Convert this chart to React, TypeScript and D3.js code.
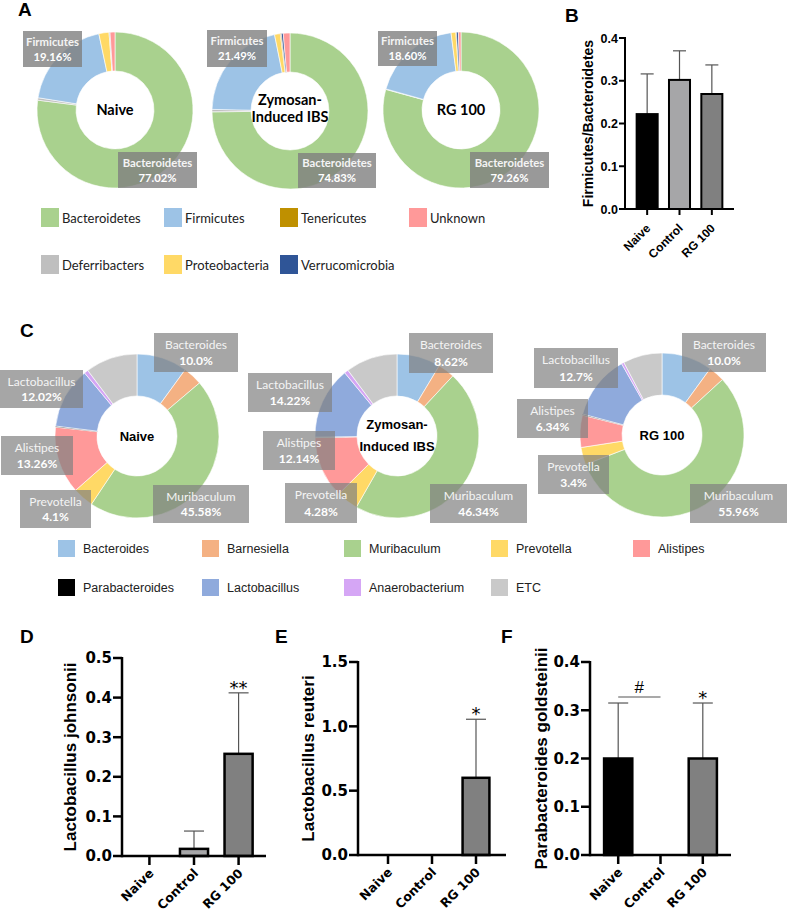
import React from 'react';
import * as d3 from 'd3';

// ---------- Panel A: phylum composition (%) ----------
const phyla = ['Bacteroidetes', 'Deferribacters', 'Firmicutes', 'Proteobacteria', 'Tenericutes', 'Verrucomicrobia', 'Unknown'];
const phylaColors = ['#a9d18e', '#bfbfbf', '#9dc3e6', '#ffd966', '#bf9000', '#2f5597', '#ff9999'];
const phylaNaive = [77.02, 0.5, 19.16, 2.1, 0.1, 0.1, 1.02];
const phylaZymosan = [74.83, 0.5, 21.49, 1.2, 0.2, 0.4, 1.38];
const phylaRG100 = [79.26, 0.1, 18.6, 1.0, 0.1, 0.4, 0.54];
const phylaLegend = [
  ['Bacteroidetes', 'Firmicutes', 'Tenericutes', 'Unknown'],
  ['Deferribacters', 'Proteobacteria', 'Verrucomicrobia'],
];

// ---------- Panel B: Firmicutes/Bacteroidetes ----------
const groups = ['Naive', 'Control', 'RG 100'];
const groupFills = ['#000000', '#a6a6a8', '#808080'];
const ratioMean = [0.222, 0.302, 0.269];
const ratioSd = [0.094, 0.068, 0.068];

// ---------- Panel C: genus composition (%) ----------
const genera = ['Bacteroides', 'Barnesiella', 'Muribaculum', 'Prevotella', 'Alistipes', 'Parabacteroides', 'Lactobacillus', 'Anaerobacterium', 'ETC'];
const generaColors = ['#9dc3e6', '#f4b183', '#a9d18e', '#ffd966', '#ff9999', '#000000', '#8faadc', '#d5a6f5', '#c9c9c9'];
const generaNaive = [10.0, 3.8, 45.58, 4.1, 13.26, 0.2, 12.02, 0.8, 10.24];
const generaZymosan = [8.62, 3.3, 46.34, 4.28, 12.14, 0.1, 14.22, 0.8, 10.2];
const generaRG100 = [10.0, 3.2, 55.96, 3.4, 6.34, 0.2, 12.7, 0.5, 7.7];
const labelledGenera = [0, 6, 4, 3, 2];
const generaLabelNaive = ['10.0%', '12.02%', '13.26%', '4.1%', '45.58%'];
const generaLabelZymosan = ['8.62%', '14.22%', '12.14%', '4.28%', '46.34%'];
const generaLabelRG100 = ['10.0%', '12.7%', '6.34%', '3.4%', '55.96%'];
const generaLegend = [
  ['Bacteroides', 'Barnesiella', 'Muribaculum', 'Prevotella', 'Alistipes'],
  ['Parabacteroides', 'Lactobacillus', 'Anaerobacterium', 'ETC'],
];

// ---------- Panels D-F ----------
const johnsoniiMean = [0, 0.018, 0.258];
const johnsoniiSd = [0, 0.045, 0.154];
const reuteriMean = [0, 0, 0.6];
const reuteriSd = [0, 0, 0.455];
const goldsteiniiMean = [0.2, 0, 0.2];
const goldsteiniiSd = [0.115, 0, 0.115];

const ARIAL = 'Liberation Sans, Arial, sans-serif';
const CALIBRI = 'Lato, sans-serif';
const WIDE = 'DejaVu Sans, sans-serif';

type Box = { x: number; y: number; w: number; h: number };

const Donut = ({ cx, cy, outer, inner, values, colors }: { cx: number; cy: number; outer: number; inner: number; values: number[]; colors: string[] }) => {
  const arcs = d3.pie<number>().sort(null).value(d => d)(values);
  const arc = d3.arc<d3.PieArcDatum<number>>().innerRadius(inner).outerRadius(outer);
  return (
    <g transform={`translate(${cx},${cy})`}>
      {arcs.map((a, i) => (
        <path key={i} d={arc(a) || ''} fill={colors[i]} stroke="#fff" strokeWidth={0.6} />
      ))}
    </g>
  );
};

const LabelBox = ({ b, top, bottom, size, topWeight, opacity }: { b: Box; top: string; bottom: string; size: number; topWeight: number; opacity: number }) => (
  <g>
    <rect x={b.x} y={b.y} width={b.w} height={b.h} fill="#808080" opacity={opacity} />
    <text x={b.x + b.w / 2} y={b.y + b.h * 0.3} dy="0.35em" textAnchor="middle" fontFamily={CALIBRI} fontSize={size} fontWeight={topWeight} fill="#f4f4f4">{top}</text>
    <text x={b.x + b.w / 2} y={b.y + b.h * 0.71} dy="0.35em" textAnchor="middle" fontFamily={CALIBRI} fontSize={size} fontWeight={700} fill="#fff">{bottom}</text>
  </g>
);

type BarPanelProps = {
  means: number[]; sds: number[];
  x0: number; x1: number; yBottom: number; yTop: number; max: number; step: number;
  padInner: number; padOuter: number;
  tickFont: string; tickSize: number; tickLen: number; axisW: number; barStroke: number; capW: number;
  xlabSize: number; xlabDx: number; xlabDy: number;
  ylabel: string; ylabelX: number; ylabelSize: number;
  annotate?: (x: (g: string) => number, y: d3.ScaleLinear<number, number>) => React.ReactNode;
};

const BarPanel = (p: BarPanelProps) => {
  const x = d3.scaleBand<string>().domain(groups).range([p.x0, p.x1]).paddingInner(p.padInner).paddingOuter(p.padOuter);
  const y = d3.scaleLinear().domain([0, p.max]).range([p.yBottom, p.yTop]);
  const cx = (g: string) => (x(g) || 0) + x.bandwidth() / 2;
  const ticks = d3.range(0, p.max + 1e-9, p.step);
  const fmt = d3.format('.1f');
  return (
    <g>
      {groups.map((g, i) => {
        const m = p.means[i];
        const s = p.sds[i];
        return (
          <g key={g}>
            {s > 0 && (
              <g stroke="#555" strokeWidth={1.2}>
                <line x1={cx(g)} x2={cx(g)} y1={y(m)} y2={y(m + s)} />
                <line x1={cx(g) - p.capW / 2} x2={cx(g) + p.capW / 2} y1={y(m + s)} y2={y(m + s)} />
              </g>
            )}
            {m > 0 && (
              <rect x={x(g)} y={y(m)} width={x.bandwidth()} height={y(0) - y(m)} fill={groupFills[i]} stroke="#000" strokeWidth={p.barStroke} />
            )}
          </g>
        );
      })}
      <line x1={p.x0} x2={p.x0} y1={p.yBottom + p.axisW / 2} y2={p.yTop - 1} stroke="#000" strokeWidth={p.axisW} />
      <line x1={p.x0} x2={p.x1} y1={p.yBottom} y2={p.yBottom} stroke="#000" strokeWidth={p.axisW} />
      {ticks.map(t => (
        <g key={t}>
          <line x1={p.x0 - p.tickLen} x2={p.x0} y1={y(t)} y2={y(t)} stroke="#000" strokeWidth={p.axisW} />
          <text x={p.x0 - p.tickLen - 1} y={y(t)} dy="0.36em" textAnchor="end" fontFamily={p.tickFont} fontWeight={700} fontSize={p.tickSize} fill="#000">{fmt(t)}</text>
        </g>
      ))}
      {groups.map(g => (
        <g key={g}>
          <line x1={cx(g)} x2={cx(g)} y1={p.yBottom} y2={p.yBottom + p.tickLen} stroke="#000" strokeWidth={p.axisW} />
          <text transform={`translate(${cx(g) + p.xlabDx},${p.yBottom + p.xlabDy}) rotate(-45)`} textAnchor="end" fontFamily={p.tickFont} fontWeight={700} fontSize={p.xlabSize} fill="#000">{g}</text>
        </g>
      ))}
      <text transform={`translate(${p.ylabelX},${(p.yBottom + p.yTop) / 2}) rotate(-90)`} textAnchor="middle" fontFamily={ARIAL} fontWeight={700} fontSize={p.ylabelSize} fill="#000">{p.ylabel}</text>
      {p.annotate && p.annotate(cx, y)}
    </g>
  );
};

const panelLetter = (t: string, x: number, y: number) => (
  <text x={x} y={y} fontFamily={ARIAL} fontWeight={700} fontSize={19} fill="#000">{t}</text>
);

// donut placement (layout only)
const donutsA = [
  { cx: 115, cy: 110, values: phylaNaive, title: ['Naive'] },
  { cx: 290, cy: 111, values: phylaZymosan, title: ['Zymosan-', 'Induced IBS'] },
  { cx: 461, cy: 110, values: phylaRG100, title: ['RG 100'] },
];
const boxesA: Box[][] = [
  [{ x: 23, y: 31, w: 59, h: 36 }, { x: 118, y: 152, w: 79, h: 36 }],
  [{ x: 207, y: 30, w: 60, h: 37 }, { x: 298, y: 153, w: 78, h: 35 }],
  [{ x: 378, y: 31, w: 59, h: 35 }, { x: 470, y: 152, w: 79, h: 36 }],
];
const donutsC = [
  { cx: 137, cy: 436, values: generaNaive, labels: generaLabelNaive, title: ['Naive'] },
  { cx: 397, cy: 436, values: generaZymosan, labels: generaLabelZymosan, title: ['Zymosan-', 'Induced IBS'] },
  { cx: 662, cy: 435, values: generaRG100, labels: generaLabelRG100, title: ['RG 100'] },
];
const boxesC: Box[][] = [
  [{ x: 154, y: 333, w: 84, h: 39 }, { x: 0, y: 370, w: 83, h: 38 }, { x: 1, y: 436, w: 72, h: 39 }, { x: 20, y: 490, w: 71, h: 38 }, { x: 153, y: 485, w: 96, h: 38 }],
  [{ x: 409, y: 333, w: 84, h: 40 }, { x: 248, y: 373, w: 84, h: 39 }, { x: 263, y: 431, w: 72, h: 39 }, { x: 285, y: 483, w: 72, h: 40 }, { x: 430, y: 484, w: 97, h: 39 }],
  [{ x: 682, y: 333, w: 84, h: 39 }, { x: 534, y: 348, w: 84, h: 40 }, { x: 517, y: 399, w: 71, h: 39 }, { x: 538, y: 455, w: 71, h: 39 }, { x: 690, y: 484, w: 97, h: 39 }],
];
const legendAX = [41, 164, 280, 409];
const legendAY = [208, 255];
const legendCX = [58, 202, 344, 491, 633];
const legendCY = [540, 579];

const App = () => {
  return (
    <svg width={787} height={915} style={{ position: 'absolute', left: 0, top: 0, background: '#fff' }}>
      {/* Panel A */}
      {panelLetter('A', 18, 16)}
      {donutsA.map((d, k) => (
        <g key={k}>
          <Donut cx={d.cx} cy={d.cy} outer={78} inner={39} values={d.values} colors={phylaColors} />
          {d.title.map((t, j) => (
            <text key={j} x={d.cx} y={d.title.length === 1 ? d.cy + 5 : d.cy - 6 + j * 17} textAnchor="middle" fontFamily={CALIBRI} fontWeight={700} fontSize={14.5} fill="#000">{t}</text>
          ))}
          <LabelBox b={boxesA[k][0]} top={phyla[2]} bottom={`${d.values[2].toFixed(2)}%`} size={11.3} topWeight={700} opacity={0.8} />
          <LabelBox b={boxesA[k][1]} top={phyla[0]} bottom={`${d.values[0].toFixed(2)}%`} size={11.3} topWeight={700} opacity={0.8} />
        </g>
      ))}
      {phylaLegend.map((row, r) => row.map((name, c) => (
        <g key={name}>
          <rect x={legendAX[c]} y={legendAY[r]} width={18} height={19} fill={phylaColors[phyla.indexOf(name)]} />
          <text x={legendAX[c] + 21} y={legendAY[r] + 10} dy="0.35em" fontFamily={CALIBRI} fontSize={13} fill="#222">{name}</text>
        </g>
      )))}

      {/* Panel B */}
      {panelLetter('B', 565, 22)}
      <BarPanel means={ratioMean} sds={ratioSd} x0={625} x1={734} yBottom={209} yTop={38} max={0.4} step={0.1}
        padInner={0.35} padOuter={0.36} tickFont={ARIAL} tickSize={12.5} tickLen={6} axisW={2} barStroke={2} capW={13}
        xlabSize={12} xlabDx={4} xlabDy={20} ylabel="Firmicutes/Bacteroidetes" ylabelX={593} ylabelSize={14} />

      {/* Panel C */}
      {panelLetter('C', 20, 337)}
      {donutsC.map((d, k) => (
        <g key={k}>
          <Donut cx={d.cx} cy={d.cy} outer={82} inner={40} values={d.values} colors={generaColors} />
          {d.title.map((t, j) => (
            <text key={j} x={d.cx} y={d.title.length === 1 ? d.cy + 5 : d.cy - 7 + j * 22} textAnchor="middle" fontFamily={ARIAL} fontWeight={700} fontSize={13} fill="#000">{t}</text>
          ))}
          {labelledGenera.map((gi, j) => (
            <LabelBox key={gi} b={boxesC[k][j]} top={genera[gi]} bottom={d.labels[j]} size={12} topWeight={400} opacity={0.7} />
          ))}
        </g>
      ))}
      {generaLegend.map((row, r) => row.map((name, c) => (
        <g key={name}>
          <rect x={legendCX[c]} y={legendCY[r]} width={17} height={17} fill={generaColors[genera.indexOf(name)]} />
          <text x={legendCX[c] + 25} y={legendCY[r] + 8.5} dy="0.35em" fontFamily={ARIAL} fontSize={12.5} fill="#222">{name}</text>
        </g>
      )))}

      {/* Panel D */}
      {panelLetter('D', 20, 643)}
      <BarPanel means={johnsoniiMean} sds={johnsoniiSd} x0={122} x1={266} yBottom={856} yTop={658} max={0.5} step={0.1}
        padInner={0.37} padOuter={0.3} tickFont={WIDE} tickSize={15} tickLen={9} axisW={2.5} barStroke={2.5} capW={20}
        xlabSize={12.5} xlabDx={5} xlabDy={18} ylabel="Lactobacillus johnsonii" ylabelX={76} ylabelSize={17}
        annotate={(cx, y) => (
          <text x={cx('RG 100')} y={y(johnsoniiMean[2] + johnsoniiSd[2]) + 1} textAnchor="middle" fontFamily={WIDE} fontSize={18} fill="#000">**</text>
        )} />

      {/* Panel E */}
      {panelLetter('E', 275, 643)}
      <BarPanel means={reuteriMean} sds={reuteriSd} x0={358} x1={506} yBottom={855} yTop={662} max={1.5} step={0.5}
        padInner={0.39} padOuter={0.377} tickFont={WIDE} tickSize={15} tickLen={9} axisW={2.5} barStroke={2.5} capW={20}
        xlabSize={12.5} xlabDx={5} xlabDy={18} ylabel="Lactobacillus reuteri" ylabelX={314} ylabelSize={17}
        annotate={(cx, y) => (
          <text x={cx('RG 100')} y={y(reuteriMean[2] + reuteriSd[2]) + 1} textAnchor="middle" fontFamily={WIDE} fontSize={18} fill="#000">*</text>
        )} />

      {/* Panel F */}
      {panelLetter('F', 501, 643)}
      <BarPanel means={goldsteiniiMean} sds={goldsteiniiSd} x0={590} x1={731} yBottom={855} yTop={662} max={0.4} step={0.1}
        padInner={0.333} padOuter={0.333} tickFont={WIDE} tickSize={15} tickLen={9} axisW={2.5} barStroke={2.5} capW={20}
        xlabSize={12.5} xlabDx={5} xlabDy={18} ylabel="Parabacteroides goldsteinii" ylabelX={547} ylabelSize={17}
        annotate={(cx, y) => {
          const lineY = y(goldsteiniiMean[0] + goldsteiniiSd[0]) - 6;
          return (
            <g>
              <line x1={cx('Naive')} x2={cx('Control')} y1={lineY} y2={lineY} stroke="#555" strokeWidth={1.2} />
              <text x={(cx('Naive') + cx('Control')) / 2} y={lineY - 4} textAnchor="middle" fontFamily={ARIAL} fontSize={17} fill="#000">#</text>
              <text x={cx('RG 100')} y={y(goldsteiniiMean[2] + goldsteiniiSd[2]) + 1} textAnchor="middle" fontFamily={WIDE} fontSize={18} fill="#000">*</text>
            </g>
          );
        }} />
    </svg>
  );
};

export default App;
